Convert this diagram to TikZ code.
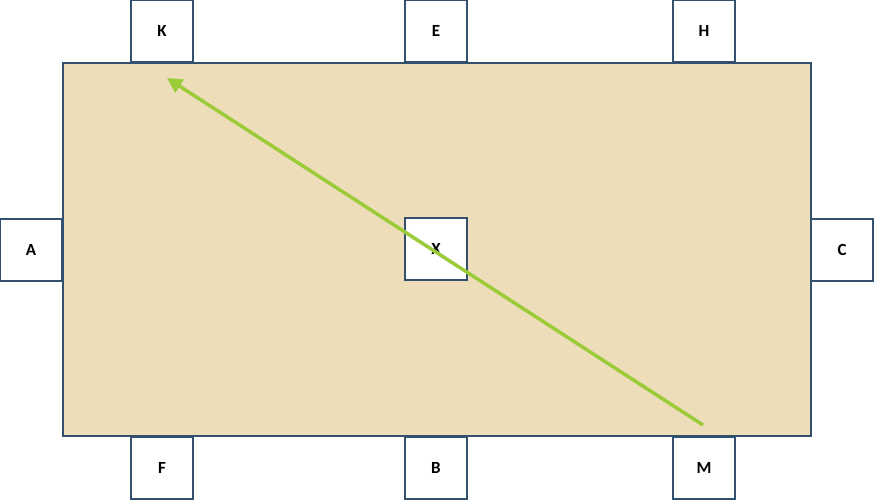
\documentclass[tikz,border=0pt]{standalone}
\usepackage{fontspec}
\setmainfont{Carlito}
\usepackage{xcolor}
\usetikzlibrary{arrows.meta}
\definecolor{seatline}{HTML}{34506F}
\definecolor{tabletop}{HTML}{EEDDB9}
\definecolor{passgreen}{HTML}{9CCB3A}

\begin{document}
\begin{tikzpicture}[x=1pt,y=1pt]
            \tikzstyle{every node}+=[inner sep=0pt]
            \tikzstyle{seat}=[draw=seatline, line width=1.2pt, fill=white, minimum size=62pt, font=\fontsize{17}{20}\selectfont\bfseries]
            \useasboundingbox (0,0) rectangle (874,-500);
            \draw [seatline, line width=1.2pt, fill=tabletop] (63,-63) rectangle (811,-436);
            \node [seat] (K) at (162,-31) {K};
            \node [seat] (E) at (436,-31) {E};
            \node [seat] (H) at (704,-31) {H};
            \node [seat] (A) at (31,-250) {A};
            \node [seat] (X) at (436,-249) {X};
            \node [seat] (C) at (842,-250) {C};
            \node [seat] (F) at (162,-468) {F};
            \node [seat] (B) at (436,-468) {B};
            \node [seat] (M) at (704,-468) {M};
            \coordinate (m0) at (703,-425);
            \coordinate (k0) at (167,-78);
            \draw [passgreen, line width=3.5pt, -{Triangle[length=15pt,width=15pt]}] (m0) -- (k0);
        \end{tikzpicture}
\end{document}
